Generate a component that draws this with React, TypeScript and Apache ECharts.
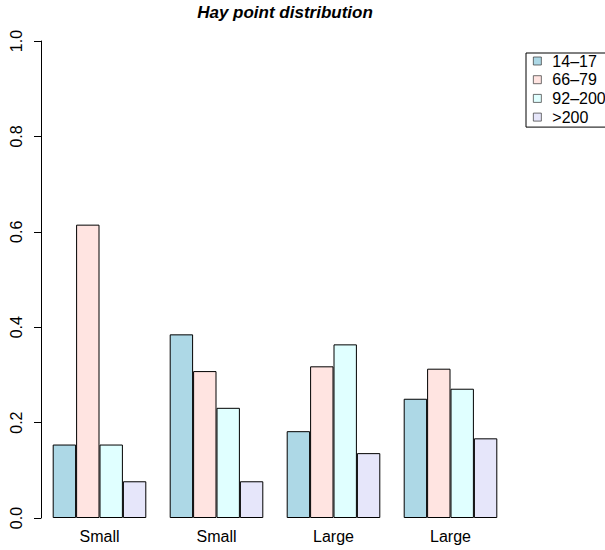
import React, { useEffect, useRef } from "react";
import * as echarts from "echarts";

const categories = ["Small", "Small", "Large", "Large"];
const seriesNames = ["14–17", "66–79", "92–200", ">200"];
const v1417 = [0.154, 0.385, 0.182, 0.25];
const v6679 = [0.615, 0.308, 0.318, 0.313];
const v92200 = [0.154, 0.231, 0.364, 0.271];
const vOver200 = [0.077, 0.077, 0.136, 0.167];
const colors = ["#ADD8E6", "#FFE4E1", "#E0FFFF", "#E6E6FA"];

const FONT = "'Liberation Sans', Arial, Helvetica, sans-serif";

export default function App() {
  const ref = useRef<HTMLDivElement>(null);
  useEffect(() => {
    if (!ref.current) return;
    const chart = echarts.init(ref.current, null, { renderer: "svg" });
    const values = [v1417, v6679, v92200, vOver200];
    chart.setOption({
      animation: false,
      backgroundColor: "#ffffff",
      title: {
        text: "Hay point distribution",
        left: 285,
        textAlign: "center",
        top: 4,
        padding: 0,
        textStyle: {
          fontFamily: FONT,
          fontSize: 17,
          fontWeight: "bold",
          fontStyle: "italic",
          color: "#000",
        },
      },
      legend: {
        orient: "vertical",
        left: 526,
        top: 53,
        padding: [0, 6, 2, 7],
        itemGap: 2.7,
        itemWidth: 8,
        itemHeight: 8,
        borderColor: "#000",
        borderWidth: 1,
        borderRadius: 0,
        icon: "rect",
        data: seriesNames,
        itemStyle: { borderWidth: 0.7, borderColor: "#333" },
        textStyle: {
          fontFamily: FONT,
          fontSize: 16,
          color: "#000",
          lineHeight: 14,
          padding: [0, 0, 0, 6],
        },
      },
      grid: { left: 41, right: 96, top: 41, bottom: 32, containLabel: false },
      xAxis: {
        type: "category",
        data: categories,
        axisLine: { show: false },
        axisTick: { show: false },
        axisLabel: {
          fontFamily: FONT,
          fontSize: 16,
          color: "#000",
          margin: 10,
          interval: 0,
        },
      },
      yAxis: {
        type: "value",
        min: 0,
        max: 1,
        interval: 0.2,
        splitLine: { show: false },
        axisLine: { show: true, lineStyle: { color: "#000", width: 1 } },
        axisTick: { show: true, length: 7, lineStyle: { color: "#000" } },
        axisLabel: {
          fontFamily: FONT,
          fontSize: 16,
          color: "#000",
          rotate: 90,
          margin: 17,
          formatter: (v: number) => v.toFixed(1),
        },
      },
      series: values.map((vals, i) => ({
        name: seriesNames[i],
        type: "bar",
        data: vals,
        barGap: "0%",
        barCategoryGap: "20%",
        itemStyle: { color: colors[i], borderColor: "#000", borderWidth: 1 },
      })),
    });
    return () => chart.dispose();
  }, []);
  return (
    <div
      ref={ref}
      style={{ position: "fixed", left: 0, top: 0, width: 605, height: 550 }}
    />
  );
}
